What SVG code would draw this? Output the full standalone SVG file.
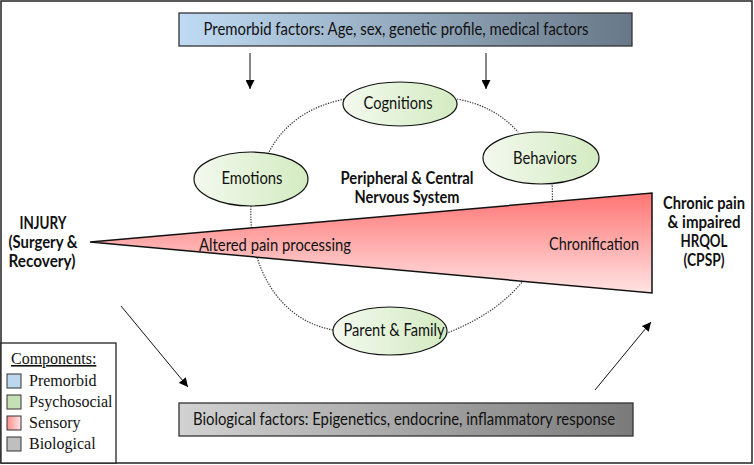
<svg xmlns="http://www.w3.org/2000/svg" width="754" height="465" viewBox="0 0 754 465">
<defs>
<linearGradient id="gBlue" x1="0" y1="0" x2="1" y2="0"><stop offset="0" stop-color="#bfdbf3"/><stop offset="1" stop-color="#687888"/></linearGradient>
<linearGradient id="gGray" x1="0" y1="0" x2="1" y2="0"><stop offset="0" stop-color="#d2d2d2"/><stop offset="1" stop-color="#7a7a7a"/></linearGradient>
<linearGradient id="gGreen" x1="0" y1="0" x2="1" y2="0"><stop offset="0" stop-color="#f3f9ee"/><stop offset="1" stop-color="#d3ebc1"/></linearGradient>
<linearGradient id="gRed" x1="0" y1="0" x2="0" y2="1"><stop offset="0" stop-color="#ff7474"/><stop offset="1" stop-color="#ffe3e3"/></linearGradient>
<linearGradient id="gRedH" x1="0" y1="0" x2="1" y2="0"><stop offset="0" stop-color="#ff8c8c"/><stop offset="1" stop-color="#ffe6e6"/></linearGradient>
<marker id="arr" viewBox="0 0 10 10" refX="10" refY="5" markerWidth="9" markerHeight="9" markerUnits="userSpaceOnUse" orient="auto"><path d="M0,0 L10,5 L0,10 z" fill="#000"/></marker>
</defs>
<style>
.t{font-family:Lato,"Open Sans","Liberation Sans",sans-serif;font-size:16.5px;fill:#111;text-anchor:middle}
.b{font-weight:bold}
.lg{font-family:"Liberation Serif","Times New Roman",serif;font-size:16px;fill:#111}
.box{stroke:#333;stroke-width:1.3}
.ell{fill:url(#gGreen);stroke:#111;stroke-width:1.2}
.dot{fill:none;stroke:#333;stroke-width:1.2;stroke-dasharray:1.3 1.3}
.arrow{fill:none;stroke:#111;stroke-width:1;marker-end:url(#arr)}
.sq{stroke:#333;stroke-width:1}
</style>
<rect x="1" y="1" width="751" height="462" fill="#fff" stroke="#222" stroke-width="1.5"/>

<g id="connectors">
<path class="dot" d="M268,154 Q290,110 345,99"/>
<path class="dot" d="M457,99 Q495,106 518,132"/>
<path class="dot" d="M552,183 C556,240 532,300 447,333"/>
<path class="dot" d="M251,206 C248,270 282,322 334,330"/>
<line class="arrow" x1="250" y1="53" x2="250" y2="89"/>
<line class="arrow" x1="486" y1="53" x2="486" y2="89"/>
<line class="arrow" x1="121" y1="306" x2="188" y2="387"/>
<line class="arrow" x1="595" y1="390" x2="651" y2="322"/>
</g>

<g id="sensory">
<polygon points="90,242 652,193 652,293" fill="url(#gRed)" stroke="#111" stroke-width="1.5" stroke-linejoin="miter"/>
<text class="t" x="275" y="251" textLength="152" lengthAdjust="spacingAndGlyphs">Altered pain processing</text>
<text class="t" x="594" y="250" textLength="90" lengthAdjust="spacingAndGlyphs">Chronification</text>
</g>

<g id="premorbid">
<rect class="box" x="179" y="13" width="453" height="33" fill="url(#gBlue)"/>
<text class="t" x="396" y="35" textLength="385" lengthAdjust="spacingAndGlyphs">Premorbid factors: Age, sex, genetic profile, medical factors</text>
</g>

<g id="biological">
<rect class="box" x="179" y="403" width="454" height="33" fill="url(#gGray)"/>
<text class="t" x="404" y="425" textLength="422" lengthAdjust="spacingAndGlyphs">Biological factors: Epigenetics, endocrine, inflammatory response</text>
</g>

<g id="cognitions">
<ellipse class="ell" cx="400" cy="104" rx="57" ry="22"/>
<text class="t" x="398" y="109" textLength="69" lengthAdjust="spacingAndGlyphs">Cognitions</text>
</g>
<g id="emotions">
<ellipse class="ell" cx="251" cy="179" rx="57" ry="27"/>
<text class="t" x="252" y="184" textLength="61" lengthAdjust="spacingAndGlyphs">Emotions</text>
</g>
<g id="behaviors">
<ellipse class="ell" cx="541" cy="158" rx="58" ry="26"/>
<text class="t" x="545" y="164" textLength="64" lengthAdjust="spacingAndGlyphs">Behaviors</text>
</g>
<g id="parent">
<ellipse class="ell" cx="390" cy="331" rx="57" ry="24"/>
<text class="t" x="394" y="336" textLength="101" lengthAdjust="spacingAndGlyphs">Parent &amp; Family</text>
</g>

<g id="cns">
<text class="t b" x="407" y="184" textLength="133" lengthAdjust="spacingAndGlyphs">Peripheral &amp; Central</text>
<text class="t b" x="407" y="203" textLength="105" lengthAdjust="spacingAndGlyphs">Nervous System</text>
</g>

<g id="injury">
<text class="t b" x="43" y="229" textLength="47" lengthAdjust="spacingAndGlyphs">INJURY</text>
<text class="t b" x="43" y="248" textLength="69" lengthAdjust="spacingAndGlyphs">(Surgery &amp;</text>
<text class="t b" x="42" y="267" textLength="67" lengthAdjust="spacingAndGlyphs">Recovery)</text>
</g>

<g id="outcome">
<text class="t b" x="704" y="209" textLength="82" lengthAdjust="spacingAndGlyphs">Chronic pain</text>
<text class="t b" x="704" y="228" textLength="73" lengthAdjust="spacingAndGlyphs">&amp; impaired</text>
<text class="t b" x="704" y="247" textLength="47" lengthAdjust="spacingAndGlyphs">HRQOL</text>
<text class="t b" x="704" y="266" textLength="41" lengthAdjust="spacingAndGlyphs">(CPSP)</text>
</g>

<g id="legend">
<rect x="1" y="343" width="115" height="120" fill="#fff" stroke="#222" stroke-width="1.3"/>
<text class="lg" x="11" y="364" text-decoration="underline">Components:</text>
<rect class="sq" x="7" y="374" width="14" height="14" fill="#bdd7ee"/>
<text class="lg" x="29" y="386">Premorbid</text>
<rect class="sq" x="7" y="395" width="14" height="14" fill="#c5e0b4"/>
<text class="lg" x="29" y="407">Psychosocial</text>
<rect class="sq" x="7" y="416" width="14" height="14" fill="url(#gRedH)"/>
<text class="lg" x="29" y="428">Sensory</text>
<rect class="sq" x="7" y="437" width="14" height="14" fill="#bfbfbf"/>
<text class="lg" x="29" y="449">Biological</text>
</g>
</svg>
